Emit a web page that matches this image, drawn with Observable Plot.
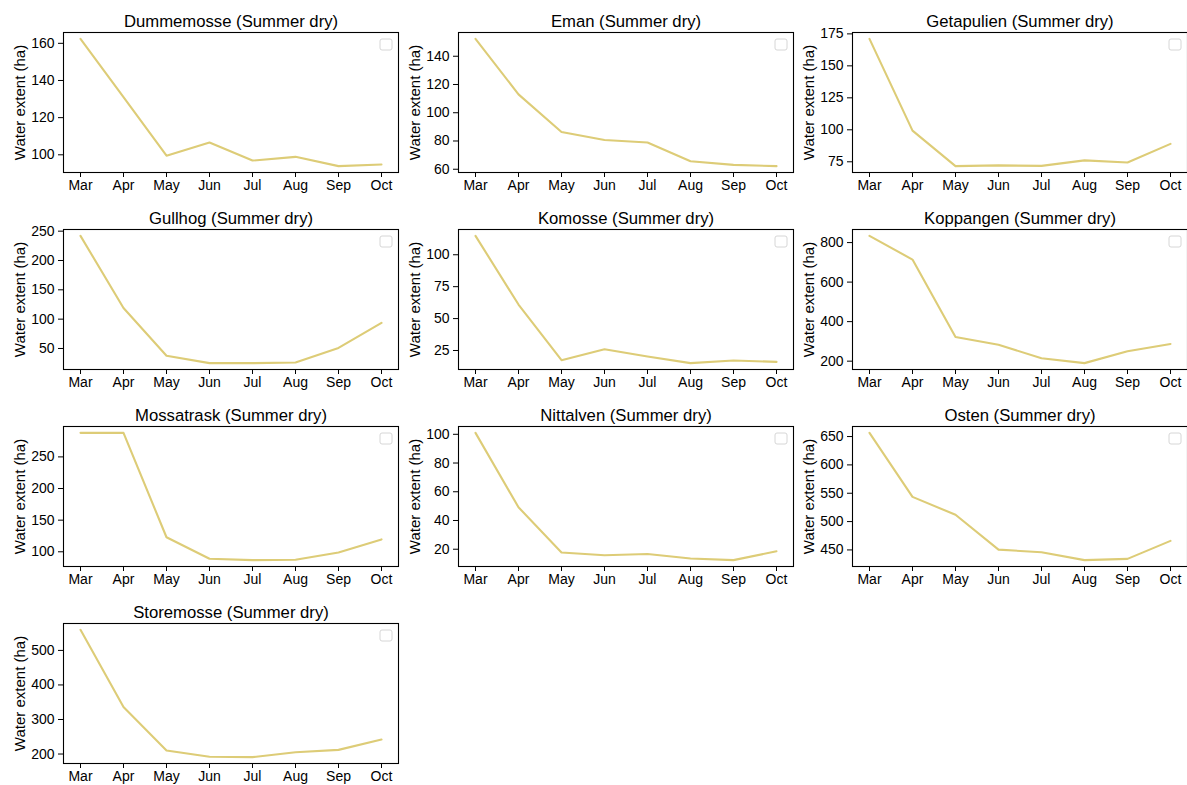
<!DOCTYPE html>
<html>
<head>
<meta charset="utf-8">
<script src="https://cdn.jsdelivr.net/npm/d3@7"></script>
<script src="https://cdn.jsdelivr.net/npm/@observablehq/plot@0.6"></script>
<style>
  html, body { margin: 0; padding: 0; background: #fff; }
  #root { position: relative; width: 1187px; height: 785px; background: #fff; overflow: hidden; }
  #root svg { position: absolute; }
</style>
</head>
<body>
<div id="root"></div>
<script>
const months = ["Mar", "Apr", "May", "Jun", "Jul", "Aug", "Sep", "Oct"];
const lakes = ["Dummemosse", "Eman", "Getapulien", "Gullhog", "Komosse", "Koppangen", "Mossatrask", "Nittalven", "Osten", "Storemosse"];
const scenario = "Summer dry";

const dummemosse = [162.4, 131.0, 99.5, 106.6, 96.9, 98.9, 93.9, 94.8];
const eman       = [152.3, 113.0, 86.4, 80.7, 78.9, 65.7, 63.1, 62.2];
const getapulien = [171.1, 99.4, 71.6, 72.2, 71.8, 76.1, 74.5, 89.0];
const gullhog    = [242.0, 119.0, 37.5, 25.0, 25.0, 26.2, 51.0, 93.7];
const komosse    = [114.8, 61.0, 17.4, 26.0, 20.3, 15.1, 17.2, 16.1];
const koppangen  = [834, 714, 322, 283, 215, 190, 250, 287];
const mossatrask = [288, 288, 123, 89, 86.8, 87.3, 99, 119.6];
const nittalven  = [101.0, 49.2, 17.7, 15.8, 16.7, 13.5, 12.4, 18.6];
const osten      = [656.5, 543.6, 512, 450.5, 446, 432, 434.2, 466];
const storemosse = [559.5, 336, 210, 192, 191, 205, 212, 242];

const seriesValues = [dummemosse, eman, getapulien, gullhog, komosse, koppangen, mossatrask, nittalven, osten, storemosse];

const yTicks = [
  [100, 120, 140, 160],
  [60, 80, 100, 120, 140],
  [75, 100, 125, 150, 175],
  [50, 100, 150, 200, 250],
  [25, 50, 75, 100],
  [200, 400, 600, 800],
  [100, 150, 200, 250],
  [20, 40, 60, 80, 100],
  [450, 500, 550, 600, 650],
  [200, 300, 400, 500]
];

const lineColor = "#DDCC77";
const font = "'Liberation Sans', Arial, Helvetica, sans-serif";

// layout
const colLeft = [63, 458, 852];
const rowTop = [32, 229, 426, 623];
const axW = 335, axH = 140;
const mL = 63, mT = 32, mR = 4, mB = 40;

function legendBox() {
  return (index, scales, values, dims) => {
    const r = document.createElementNS("http://www.w3.org/2000/svg", "rect");
    const x = dims.width - dims.marginRight - 18;
    const y = dims.marginTop + 7;
    r.setAttribute("x", x);
    r.setAttribute("y", y);
    r.setAttribute("width", 12);
    r.setAttribute("height", 11);
    r.setAttribute("rx", 2);
    r.setAttribute("fill", "white");
    r.setAttribute("fill-opacity", 0.8);
    r.setAttribute("stroke", "#d6d6d6");
    r.setAttribute("stroke-width", 1);
    return r;
  };
}

const root = document.getElementById("root");

lakes.forEach((lake, i) => {
  const vals = seriesValues[i];
  const data = months.map((m, j) => ({month: m, value: vals[j]}));
  const lo = d3.min(vals), hi = d3.max(vals);
  const pad = (hi - lo) * 0.05;
  const col = i % 3, row = Math.floor(i / 3);

  const chart = Plot.plot({
    width: mL + axW + mR,
    height: mT + axH + mB,
    marginLeft: mL,
    marginTop: mT,
    marginRight: mR,
    marginBottom: mB,
    style: {background: "transparent", overflow: "visible", fontFamily: font, color: "#000"},
    x: {type: "point", domain: months, padding: 0.35, label: null},
    y: {domain: [lo - pad, hi + pad], label: null},
    marks: [
      Plot.axisY({ticks: yTicks[i], tickSize: 5, tickPadding: 4, fontSize: 14, label: null, stroke: "#000", color: "#000"}),
      Plot.axisX({tickSize: 5, tickPadding: 3, fontSize: 14, label: null, stroke: "#000", color: "#000"}),
      Plot.line(data, {x: "month", y: "value", stroke: lineColor, strokeWidth: 2.1}),
      Plot.frame({stroke: "#000", strokeWidth: 1.1}),
      legendBox(),
      Plot.text([`${lake} (${scenario})`], {frameAnchor: "top", dy: -6, lineAnchor: "bottom", fontSize: 16.7, fill: "#000"}),
      Plot.text(["Water extent (ha)"], {frameAnchor: "left", dx: -43, rotate: -90, textAnchor: "middle", lineAnchor: "middle", fontSize: 15, fill: "#000"})
    ]
  });
  chart.style.left = (colLeft[col] - mL) + "px";
  chart.style.top = (rowTop[row] - mT) + "px";
  root.appendChild(chart);
});
</script>
</body>
</html>
